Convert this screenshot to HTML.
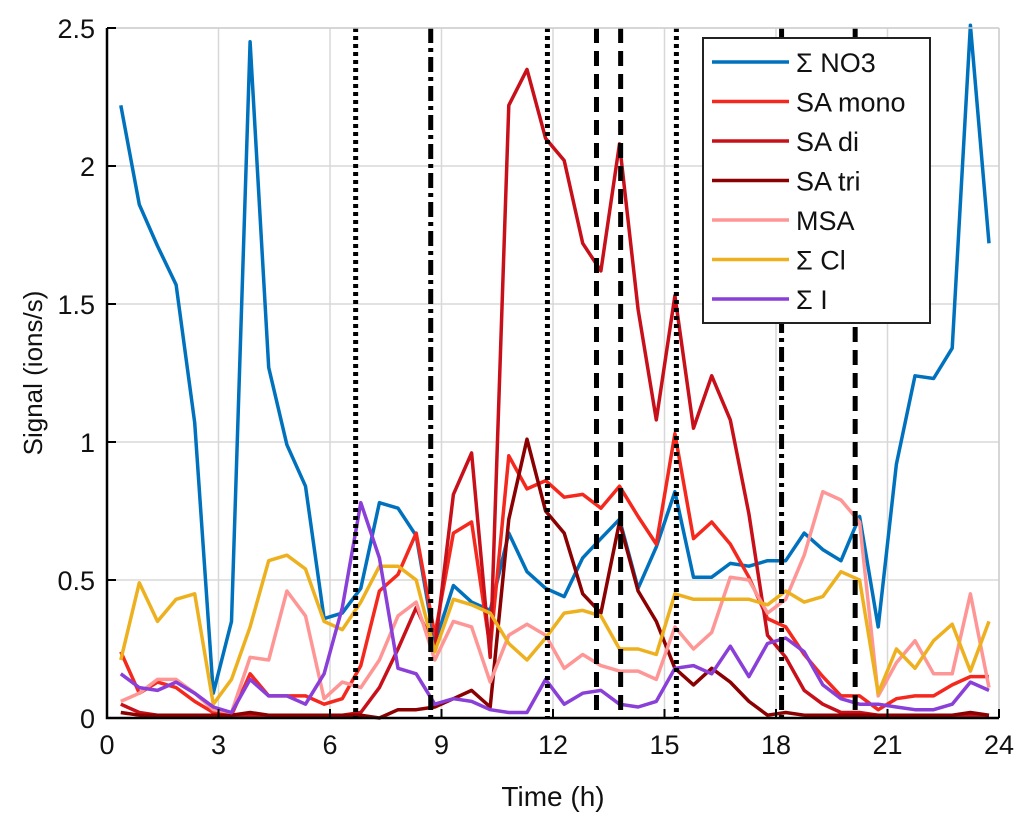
<!DOCTYPE html>
<html><head><meta charset="utf-8"><style>
body{margin:0;background:#fff;}
svg{display:block;font-family:"Liberation Sans",sans-serif;}
</style></head><body>
<svg id="chart" width="1033" height="831" viewBox="0 0 1033 831"></svg>
<script>
const times=[0.37,0.87,1.36,1.86,2.36,2.86,3.35,3.85,4.35,4.84,5.34,5.84,6.33,6.83,7.33,7.83,8.32,8.82,9.32,9.81,10.31,10.81,11.30,11.80,12.30,12.80,13.29,13.79,14.29,14.78,15.28,15.78,16.27,16.77,17.27,17.77,18.26,18.76,19.26,19.75,20.25,20.75,21.24,21.74,22.24,22.74,23.23,23.73];
const no3=[2.22,1.86,1.71,1.57,1.07,0.09,0.35,2.45,1.27,0.99,0.84,0.36,0.38,0.47,0.78,0.76,0.66,0.27,0.48,0.42,0.39,0.67,0.53,0.47,0.44,0.58,0.65,0.72,0.47,0.62,0.82,0.51,0.51,0.56,0.55,0.57,0.57,0.67,0.61,0.57,0.73,0.33,0.92,1.24,1.23,1.34,2.51,1.72];
const saMono=[0.24,0.09,0.13,0.11,0.06,0.02,0.01,0.16,0.08,0.08,0.08,0.05,0.07,0.19,0.46,0.52,0.67,0.30,0.67,0.71,0.25,0.95,0.83,0.86,0.80,0.81,0.76,0.84,0.73,0.63,1.03,0.65,0.71,0.63,0.51,0.36,0.33,0.23,0.15,0.08,0.08,0.03,0.07,0.08,0.08,0.12,0.15,0.15];
const saDi=[0.05,0.02,0.01,0.01,0.01,0.01,0.01,0.01,0.01,0.01,0.01,0.01,0.01,0.02,0.11,0.25,0.40,0.25,0.81,0.96,0.22,2.22,2.35,2.10,2.02,1.72,1.62,2.08,1.48,1.08,1.53,1.05,1.24,1.08,0.74,0.30,0.22,0.10,0.05,0.02,0.02,0.01,0.01,0.01,0.01,0.01,0.01,0.01];
const saTri=[0.02,0.01,0.01,0.01,0.01,0.01,0.01,0.02,0.01,0.01,0.01,0.01,0.01,0.01,0.00,0.03,0.03,0.04,0.07,0.10,0.04,0.72,1.01,0.75,0.67,0.45,0.38,0.71,0.46,0.35,0.18,0.12,0.18,0.13,0.06,0.01,0.02,0.01,0.01,0.01,0.01,0.01,0.01,0.01,0.01,0.01,0.02,0.01];
const msa=[0.06,0.09,0.14,0.14,0.09,0.03,0.02,0.22,0.21,0.46,0.37,0.07,0.13,0.11,0.21,0.37,0.42,0.21,0.35,0.33,0.13,0.30,0.34,0.30,0.18,0.23,0.19,0.17,0.17,0.14,0.33,0.25,0.31,0.51,0.50,0.38,0.43,0.59,0.82,0.79,0.71,0.08,0.20,0.28,0.16,0.16,0.45,0.11];
const cl=[0.21,0.49,0.35,0.43,0.45,0.05,0.14,0.33,0.57,0.59,0.54,0.35,0.32,0.42,0.55,0.55,0.50,0.24,0.43,0.41,0.38,0.27,0.21,0.29,0.38,0.39,0.37,0.25,0.25,0.23,0.45,0.43,0.43,0.43,0.43,0.41,0.46,0.42,0.44,0.53,0.50,0.09,0.25,0.18,0.28,0.34,0.17,0.35];
const iod=[0.16,0.11,0.10,0.13,0.09,0.04,0.02,0.14,0.08,0.08,0.05,0.16,0.40,0.78,0.58,0.18,0.16,0.05,0.07,0.06,0.03,0.02,0.02,0.14,0.05,0.09,0.10,0.05,0.04,0.06,0.18,0.19,0.16,0.26,0.15,0.27,0.29,0.24,0.12,0.07,0.05,0.05,0.04,0.03,0.03,0.05,0.13,0.10];
const xTicks=[0,3,6,9,12,15,18,21,24];
const yTicks=[0,0.5,1,1.5,2,2.5];
const dottedLines=[6.69,11.85,15.32];
const dashDotLines=[8.71,18.15];
const dashedLines=[13.17,13.82,20.13];
const seriesNames=["Σ NO3","SA mono","SA di","SA tri","MSA","Σ Cl","Σ I"];

const L=107,R=999,T=28,B=718;
const X=t=>L+(t/24)*(R-L);
const Y=v=>B-(v/2.5)*(B-T);
const NS="http://www.w3.org/2000/svg";
const svg=document.getElementById('chart');
function mk(tag,attrs,parent){const e=document.createElementNS(NS,tag);for(const k in attrs)e.setAttribute(k,attrs[k]);(parent||svg).appendChild(e);return e;}

const grid=mk('g',{});


xTicks.forEach(t=>{mk('line',{x1:X(t),x2:X(t),y1:T,y2:B,stroke:'#d8d8d8','stroke-width':1.5},grid);});
yTicks.forEach(v=>{mk('line',{x1:L,x2:R,y1:Y(v),y2:Y(v),stroke:'#d8d8d8','stroke-width':1.5},grid);});

const cols=['#0072BD','#F5281E','#C8101A','#8B0000','#FF9696','#EDB120','#8A3FD8'];
const data=[no3,saMono,saDi,saTri,msa,cl,iod];
const snames=['series-no3','series-sa-mono','series-sa-di','series-sa-tri','series-msa','series-cl','series-i'];
data.forEach((arr,k)=>{
  const p=mk('polyline',{points:arr.map((v,i)=>X(times[i]).toFixed(1)+','+Y(v).toFixed(1)).join(' '),fill:'none',stroke:cols[k],'stroke-width':3.5,'stroke-linejoin':'round'});
  
  
});

function vline(t,dash,name){
  const l=mk('line',{x1:X(t),x2:X(t),y1:T,y2:B,stroke:'#000','stroke-width':5,'stroke-dasharray':dash});
  
  
}
dottedLines.forEach(t=>vline(t,'4 4','dotted-marker'));
dashDotLines.forEach(t=>vline(t,'15 5 4 5','dash-dot-marker'));
dashedLines.forEach(t=>vline(t,'15 8','dashed-marker'));

mk('line',{x1:L,x2:R,y1:T,y2:T,stroke:'#cfcfcf','stroke-width':1.5});
mk('line',{x1:R,x2:R,y1:T,y2:B,stroke:'#cfcfcf','stroke-width':1.5});
const ax=mk('path',{d:`M${L},${T}V${B}H${R}`,fill:'none',stroke:'#000','stroke-width':2.5});


xTicks.forEach(t=>{
  mk('line',{x1:X(t),x2:X(t),y1:B,y2:B-9,stroke:'#000','stroke-width':2});
  const tx=mk('text',{x:X(t),y:B+36,'text-anchor':'middle','font-size':27,fill:'#111'});
  tx.textContent=t;
  
  
});
yTicks.forEach(v=>{
  mk('line',{x1:L,x2:L+9,y1:Y(v),y2:Y(v),stroke:'#000','stroke-width':2});
  const tx=mk('text',{x:L-12,y:Y(v)+10,'text-anchor':'end','font-size':27,fill:'#111'});
  tx.textContent=v;
  
  
});
const xt=mk('text',{x:553,y:806,'text-anchor':'middle','font-size':28,fill:'#111'});
xt.textContent='Time (h)';


const yt=mk('text',{x:0,y:0,'text-anchor':'middle','font-size':26,fill:'#111',transform:'translate(42,373) rotate(-90)'});
yt.textContent='Signal (ions/s)';



const lg=mk('g',{});


mk('rect',{x:703,y:38,width:227,height:285,fill:'#fff',stroke:'#222','stroke-width':2},lg);
seriesNames.forEach((n,k)=>{
  const yy=62+k*39.5;
  mk('line',{x1:712,x2:789,y1:yy,y2:yy,stroke:cols[k],'stroke-width':3.5},lg);
  const tx=mk('text',{x:796,y:yy+10,'font-size':27,fill:'#111'},lg);
  tx.textContent=n;
  
  
});
</script>
</body></html>
